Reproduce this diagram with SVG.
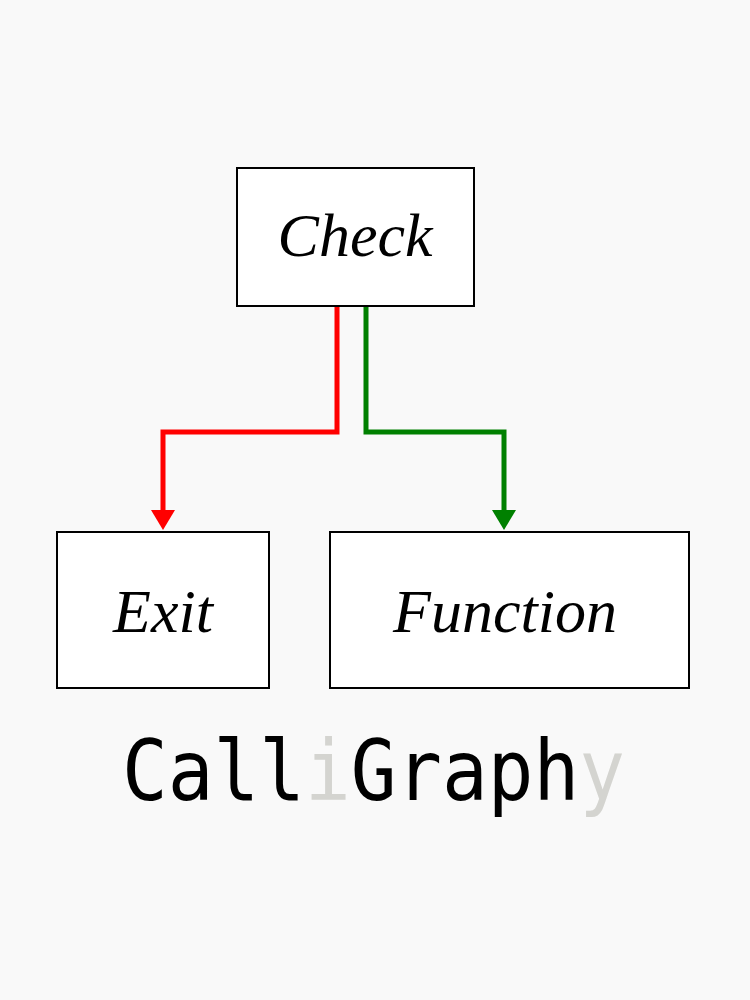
<svg xmlns="http://www.w3.org/2000/svg" width="750" height="1000" viewBox="0 0 750 1000">
<style>
.box{fill:#fff;stroke:#000;stroke-width:2}
.lbl{font-family:"Liberation Serif",serif;font-style:italic;font-size:62px;fill:#000;text-anchor:middle}
.con{fill:none;stroke-width:5}
</style>
<defs>
<marker id="ar" viewBox="0 0 10 10" refX="5" refY="10" markerWidth="5" markerHeight="4.6" orient="auto" markerUnits="userSpaceOnUse"><path d="M0 0L10 0L5 10Z" fill="#f00"/></marker>
</defs>
<rect width="750" height="1000" fill="#f9f9f9"/>
<g id="connectors">
<path class="con" stroke="#f00" d="M337 306V432H163V512"/>
<path d="M151 510L175 510L163 530Z" fill="#f00"/>
<path class="con" stroke="#008000" d="M366 306V432H504V512"/>
<path d="M492 510L516 510L504 530Z" fill="#008000"/>
</g>
<g id="check"><rect class="box" x="237" y="168" width="237" height="138"/><text class="lbl" x="355" y="256">Check</text></g>
<g id="exit"><rect class="box" x="57" y="532" width="212" height="156"/><text class="lbl" x="163" y="632">Exit</text></g>
<g id="function"><rect class="box" x="330" y="532" width="359" height="156"/><text class="lbl" x="505" y="632">Function</text></g>
<text x="122" y="800" font-family="DejaVu Sans Mono,monospace" font-size="83" fill="#000" textLength="503" lengthAdjust="spacingAndGlyphs">Call<tspan fill="#d4d4d0">i</tspan>Graph<tspan fill="#d4d4d0">y</tspan></text>
</svg>
